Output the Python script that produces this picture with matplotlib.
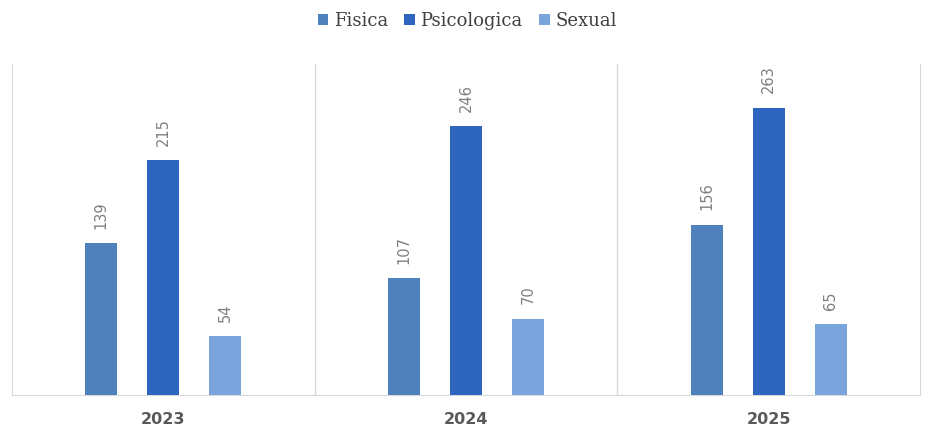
import numpy as np
import matplotlib
matplotlib.use('Agg')
import matplotlib.pyplot as plt

years = ["2023", "2024", "2025"]
series = ["Fisica", "Psicologica", "Sexual"]
fisica = [139, 107, 156]
psicologica = [215, 246, 263]
sexual = [54, 70, 65]

COLORS = ["#4F81BD", "#2E66BF", "#7AA5DC"]

fig = plt.figure(figsize=(9.25, 4.28), dpi=100)
ax = fig.add_axes([12 / 925, 33 / 428, 908 / 925, 331 / 428])

x = np.arange(len(years))
width = 0.106
offset = 0.205

for i, (name, vals) in enumerate(zip(series, [fisica, psicologica, sexual])):
    pos = x + (i - 1) * offset
    bars = ax.bar(pos, vals, width, color=COLORS[i], label=name, zorder=3)
    for b, v in zip(bars, vals):
        ax.text(b.get_x() + b.get_width() / 2, v + 13, str(v), rotation=90,
                ha='center', va='bottom', fontsize=10.5, color='#808080')

ax.set_xlim(-0.5, 2.5)
ax.set_ylim(0, 303)
ax.set_yticks([])
ax.set_xticks(x)
ax.set_xticklabels(years, fontsize=11.5, fontweight='bold', color='#595959')
ax.tick_params(axis='x', length=0, pad=12)

for xv in [0.5, 1.5]:
    ax.axvline(xv, color='#d9d9d9', linewidth=1, zorder=1)
for side in ['left', 'right', 'bottom']:
    ax.spines[side].set_color('#d9d9d9')
ax.spines['top'].set_visible(False)

fig.legend(loc='upper center', ncol=3, bbox_to_anchor=(0.505, 1.01),
           frameon=False, handlelength=0.6, handleheight=0.6, handletextpad=0.3,
           columnspacing=0.9, prop={'family': 'DejaVu Serif', 'size': 13},
           labelcolor='#404040')

fig.savefig("out.png", dpi=100)
